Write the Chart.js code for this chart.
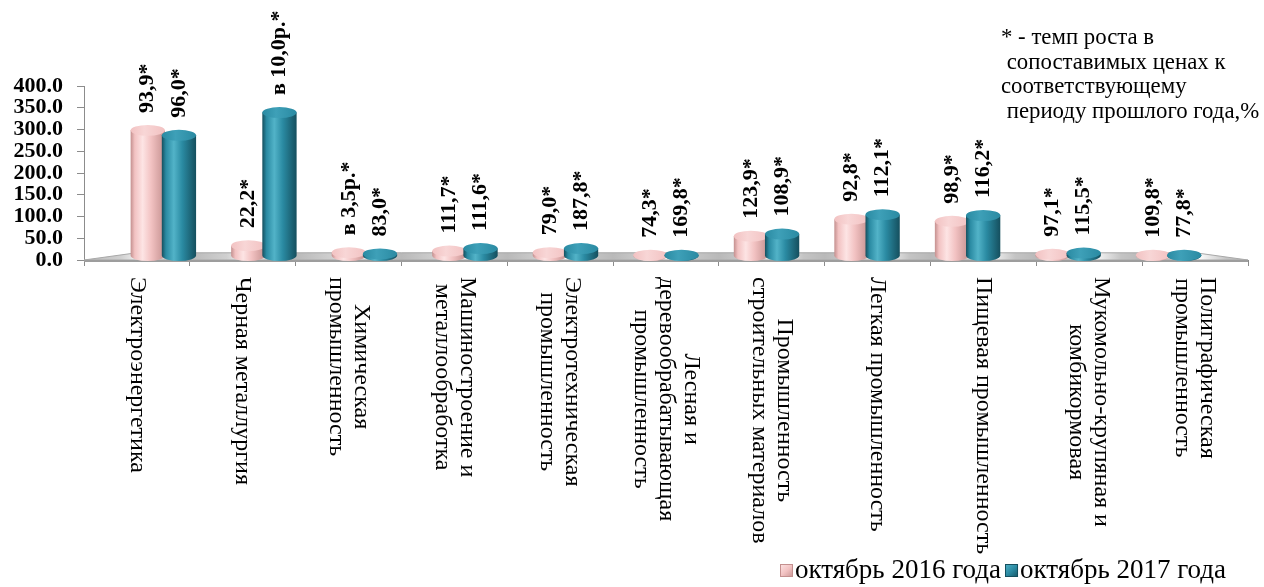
<!DOCTYPE html>
<html>
<head>
<meta charset="utf-8">
<script src="https://cdn.jsdelivr.net/npm/chart.js@4.4.0/dist/chart.umd.min.js"></script>
<style>
  html, body { margin: 0; padding: 0; background: #fff; }
  #wrap { width: 1264px; height: 587px; }
</style>
</head>
<body>
<div id="wrap"><canvas id="chart"></canvas></div>
<script>
const categories = [
    ['Электроэнергетика'],
    ['Черная металлургия'],
    ['Химическая', 'промышленность'],
    ['Машиностроение и', 'металлообработка'],
    ['Электротехническая', 'промышленность'],
    ['Лесная и', 'деревообрабатывающая', 'промышленность'],
    ['Промышленность', 'строительных материалов'],
    ['Легкая промышленность'],
    ['Пищевая промышленность'],
    ['Мукомольно-крупяная и', 'комбикормовая'],
    ['Полиграфическая', 'промышленность']
];
const seriesNames = ['октябрь 2016 года', 'октябрь 2017 года'];
const oct2016 = [304, 25, 8, 12, 8, 2, 48, 89, 84, 4, 2];
const oct2017 = [292, 347, 5, 18, 18, 2, 53, 100, 98, 7, 2];
const growth2016 = ['93,9*', '22,2*', 'в 3,5р.*', '111,7*', '79,0*', '74,3*', '123,9*', '92,8*', '98,9*', '97,1*', '109,8*'];
const growth2017 = ['96,0*', 'в 10,0р.*', '83,0*', '111,6*', '187,8*', '169,8*', '108,9*', '112,1*', '116,2*', '115,5*', '77,8*'];
const yTicks = [0, 50, 100, 150, 200, 250, 300, 350, 400];
const noteLines = ['* - темп роста в', ' сопоставимых ценах к', 'соответствующему', ' периоду прошлого года,%'];

const SERIF = '"Liberation Serif", "Times New Roman", serif';
const palette = [
    { base: '#f2c2c2', dark: '#c4908f', light: '#fde4e4', mid: '#f2c2c2', cap: '#f8d6d6' },
    { base: '#2a8aa2', dark: '#154f5e', light: '#52b3c8', mid: '#2a8aa2', cap: '#3ea0b8' }
];

// fake depth: bars sit a bit behind the front axis edge
const VY = 180, K_BAR = 0.95, K_BACK = 0.91;
function proj(chart, x, y, k) {
    const cx = (chart.chartArea.left + chart.chartArea.right) / 2;
    return { x: cx + (x - cx) * k, y: VY + (y - VY) * k };
}

function drawCylinder(ctx, X, top, base, w, c) {
    const rx = w / 2, ry = Math.max(2.5, w * 0.16);
    const l = X - rx, r = X + rx;
    const g = ctx.createLinearGradient(l, 0, r, 0);
    g.addColorStop(0, c.dark);
    g.addColorStop(0.12, c.mid);
    g.addColorStop(0.35, c.light);
    g.addColorStop(0.6, c.mid);
    g.addColorStop(1, c.dark);
    ctx.fillStyle = g;
    ctx.beginPath();
    ctx.moveTo(l, top);
    ctx.lineTo(l, base);
    ctx.ellipse(X, base, rx, ry, 0, Math.PI, 0, true);
    ctx.lineTo(r, top);
    ctx.closePath();
    ctx.fill();
    const gc = ctx.createLinearGradient(l, 0, r, 0);
    gc.addColorStop(0, c.mid);
    gc.addColorStop(0.4, c.cap);
    gc.addColorStop(1, c.mid);
    ctx.fillStyle = gc;
    ctx.beginPath();
    ctx.ellipse(X, top, rx, ry, 0, 0, Math.PI * 2);
    ctx.fill();
}

const depthPlugin = {
    id: 'depth',
    beforeDatasetsDraw(chart) {
        const { ctx, chartArea } = chart;
        const y0 = chart.scales.y.getPixelForValue(0);
        const fl = proj(chart, chartArea.left, y0, K_BACK);
        const fr = proj(chart, chartArea.right, y0, K_BACK);
        ctx.save();
        const g = ctx.createLinearGradient(chartArea.left, 0, chartArea.right, 0);
        const n = categories.length;
        for (let i = 0; i < n; i++) {
            g.addColorStop(i / n, '#b9b9b9');
            g.addColorStop((i + 0.35) / n, '#d0d0d0');
            g.addColorStop((i + 0.55) / n, '#fafafa');
            g.addColorStop((i + 0.8) / n, '#c4c4c4');
        }
        g.addColorStop(1, '#b9b9b9');
        ctx.fillStyle = g;
        ctx.beginPath();
        ctx.moveTo(chartArea.left, y0);
        ctx.lineTo(fl.x, fl.y);
        ctx.lineTo(fr.x, fr.y);
        ctx.lineTo(chartArea.right, y0);
        ctx.closePath();
        ctx.fill();
        ctx.strokeStyle = '#a8a8a8';
        ctx.lineWidth = 1;
        ctx.stroke();
        ctx.fillStyle = '#9d9d9d';
        ctx.fillRect(chartArea.left, y0, chartArea.right - chartArea.left, 2);

        // cylinders: pink first, teal in front of it
        const metas = [chart.getDatasetMeta(0), chart.getDatasetMeta(1)];
        metas[0].data.forEach((_, i) => {
            metas.forEach((meta, d) => {
                const el = meta.data[i];
                const t = proj(chart, el.x, el.y, K_BAR);
                const b = proj(chart, el.x, el.base, K_BAR);
                drawCylinder(ctx, t.x, t.y, b.y, el.width * 1.1 * K_BAR, palette[d]);
            });
        });
        ctx.restore();
    },
    beforeDatasetDraw() {
        return false;
    },
    afterDatasetsDraw(chart) {
        const { ctx } = chart;
        const texts = [growth2016, growth2017];
        ctx.save();
        ctx.font = 'bold 22px ' + SERIF;
        ctx.fillStyle = '#000';
        ctx.textAlign = 'left';
        ctx.textBaseline = 'middle';
        [0, 1].forEach(d => {
            chart.getDatasetMeta(d).data.forEach((el, i) => {
                const t = proj(chart, el.x, el.y, K_BAR);
                const ry = Math.max(2.5, el.width * 1.1 * K_BAR * 0.16);
                ctx.save();
                ctx.translate(t.x, t.y - ry - 12);
                ctx.rotate(-Math.PI / 2);
                ctx.fillText(texts[d][i], 0, 0);
                ctx.restore();
            });
        });
        ctx.restore();
    },
    afterDraw(chart) {
        const { ctx } = chart;
        const xs = chart.scales.x;
        const top = chart.scales.y.getPixelForValue(0) + 17;
        const lh = 25;
        ctx.save();
        ctx.font = '24px ' + SERIF;
        ctx.fillStyle = '#000';
        ctx.textAlign = 'left';
        ctx.textBaseline = 'middle';
        categories.forEach((lines, i) => {
            const x = xs.getPixelForValue(i);
            const widths = lines.map(s => ctx.measureText(s).width);
            const maxW = Math.max(...widths);
            ctx.save();
            ctx.translate(x, top);
            ctx.rotate(Math.PI / 2);
            lines.forEach((s, j) => {
                const ly = (j - (lines.length - 1) / 2) * lh;
                ctx.fillText(s, (maxW - widths[j]) / 2, ly);
            });
            ctx.restore();
        });

        // footnote
        ctx.font = '22.8px ' + SERIF;
        noteLines.forEach((s, j) => {
            ctx.fillText(s, 1001, 38 + j * 24.7);
        });

        // legend, right side under the labels
        ctx.font = '27px ' + SERIF;
        let lx = 780;
        const ly = 571;
        chart.data.datasets.forEach((ds, d) => {
            const c = palette[d];
            const g = ctx.createLinearGradient(lx, ly - 7, lx + 13, ly + 7);
            g.addColorStop(0, c.light);
            g.addColorStop(0.5, c.mid);
            g.addColorStop(1, c.dark);
            ctx.fillStyle = g;
            ctx.fillRect(lx, ly - 7, 13, 13);
            ctx.strokeStyle = c.dark;
            ctx.lineWidth = 1;
            ctx.strokeRect(lx + 0.5, ly - 6.5, 12, 12);
            ctx.fillStyle = '#000';
            ctx.fillText(ds.label, lx + 15, ly);
            lx += 15 + ctx.measureText(ds.label).width + 4;
        });
        ctx.restore();
    }
};

new Chart(document.getElementById('chart'), {
    type: 'bar',
    data: {
        labels: categories,
        datasets: [
            { label: seriesNames[0], data: oct2016, backgroundColor: palette[0].base, borderColor: palette[0].dark, borderWidth: 1 },
            { label: seriesNames[1], data: oct2017, backgroundColor: palette[1].base, borderColor: palette[1].dark, borderWidth: 1 }
        ]
    },
    options: {
        responsive: true,
        maintainAspectRatio: false,
        animation: false,
        categoryPercentage: 0.62,
        barPercentage: 1.0,
        layout: { padding: { top: 86, right: 16, left: 0, bottom: 0 } },
        plugins: {
            legend: { display: false },
            tooltip: { enabled: false }
        },
        scales: {
            x: {
                grid: { display: true, drawOnChartArea: false, tickLength: 6, color: '#8c8c8c', offset: true },
                border: { display: true, color: '#8c8c8c' },
                ticks: { display: false },
                afterFit(scale) { scale.height = 327; }
            },
            y: {
                min: yTicks[0],
                max: yTicks[yTicks.length - 1],
                grid: { display: true, drawOnChartArea: false, tickLength: 7, color: '#8c8c8c' },
                border: { display: true, color: '#8c8c8c' },
                ticks: {
                    color: '#000',
                    padding: 14,
                    autoSkip: false,
                    font: { family: SERIF, size: 22, weight: 'bold', lineHeight: 1 },
                    callback: v => v.toFixed(1)
                },
                afterBuildTicks(scale) { scale.ticks = yTicks.map(v => ({ value: v })); },
                afterFit(scale) { scale.width = 84; }
            }
        }
    },
    plugins: [depthPlugin]
});
</script>
</body>
</html>
